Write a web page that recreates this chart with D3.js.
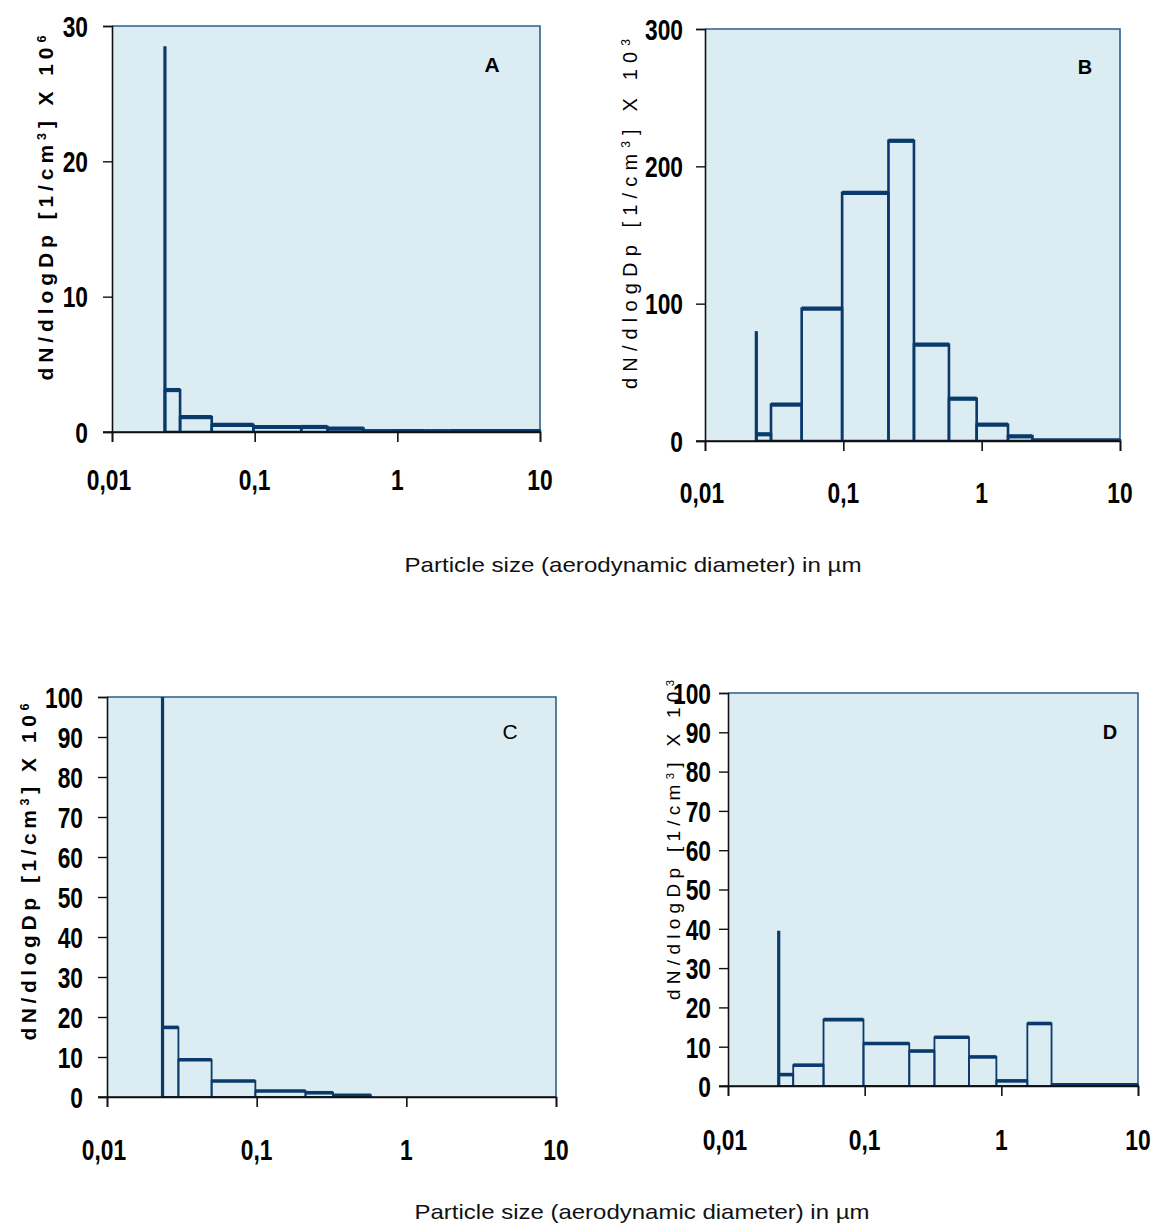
<!DOCTYPE html>
<html>
<head>
<meta charset="utf-8">
<script src="https://cdn.jsdelivr.net/npm/d3@7"></script>
<style>
  html, body { margin: 0; padding: 0; background: #ffffff; }
  svg { display: block; }
</style>
</head>
<body>
<svg id="chart" width="1156" height="1224"></svg>
<script>
// Impactor stage boundaries (aerodynamic diameter, µm)
const stageEdges = [0.0235, 0.030, 0.050, 0.098, 0.212, 0.324, 0.58, 0.92, 1.55, 2.33, 10];

// Lowest-stage peak plus one value per stage, dN/dlogDp
const peakA = 28.5;
const valuesA = [3.1, 1.1, 0.52, 0.37, 0.37, 0.25, 0.06, 0.06, 0.06, 0.06];
const peakB = 80;
const valuesB = [4.9, 26.5, 96.4, 180.7, 218.6, 70.2, 30.8, 11.9, 3.4, 0.5];
const peakC = 100;
const valuesC = [17.4, 9.3, 4.0, 1.5, 1.06, 0.45, 0, 0, 0, 0];
const peakD = 39.5;
const valuesD = [2.9, 5.3, 16.9, 10.8, 8.9, 12.4, 7.4, 1.3, 15.9, 0.3];

// Axis ticks and labels
const xTicks = [0.01, 0.1, 1, 10];
const xTickLabels = ["0,01", "0,1", "1", "10"];
const yTicksA = [0, 10, 20, 30];
const yTicksB = [0, 100, 200, 300];
const yTicksC = [0, 10, 20, 30, 40, 50, 60, 70, 80, 90, 100];
const yTicksD = [0, 10, 20, 30, 40, 50, 60, 70, 80, 90, 100];

const panelLetters = ["A", "B", "C", "D"];
const xTitle = "Particle size (aerodynamic diameter) in µm";

const NAVY = "#0a3a6c";
const PLOT_BG = "#dbecf2";
const BORDER = "#2e5e90";
const TEXT_FONT = "'Liberation Sans', Arial, sans-serif";
const TICK_SIZE = 30;
const TICK_SQUEEZE = 0.76;   // condensed look for the tick numerals

const svg = d3.select("#chart");

const panels = [
  { letter: panelLetters[0], peak: peakA, values: valuesA, yTicks: yTicksA, yMax: 30,
    x0: 112, x1: 540, y0: 26, y1: 432, side: 2.6, top: 4.2,
    labelX: 492, labelY: 72, labelWeight: "bold", labelSize: 21,
    yTitle: { x: 46, cy: 208, len: 345, bold: true, exp: "6", size: 21 },
    yLabelGap: 24, xLabelY: 490 },
  { letter: panelLetters[1], peak: peakB, values: valuesB, yTicks: yTicksB, yMax: 300,
    x0: 705, x1: 1120, y0: 29, y1: 441, side: 2.6, top: 4.2,
    labelX: 1085, labelY: 74, labelWeight: "bold", labelSize: 20,
    yTitle: { x: 630, cy: 214, len: 350, bold: false, exp: "3", size: 20 },
    yLabelGap: 22, xLabelY: 503 },
  { letter: panelLetters[2], peak: peakC, values: valuesC, yTicks: yTicksC, yMax: 100,
    x0: 107, x1: 556, y0: 697, y1: 1097, side: 1.8, top: 3.6,
    labelX: 510, labelY: 739, labelWeight: "normal", labelSize: 21,
    yTitle: { x: 29, cy: 872, len: 337, bold: true, exp: "6", size: 21 },
    yLabelGap: 24, xLabelY: 1160 },
  { letter: panelLetters[3], peak: peakD, values: valuesD, yTicks: yTicksD, yMax: 100,
    x0: 728, x1: 1138, y0: 693, y1: 1086, side: 1.8, top: 3.6,
    labelX: 1110, labelY: 739, labelWeight: "bold", labelSize: 20,
    yTitle: { x: 673, cy: 840, len: 320, bold: false, exp: "3", size: 19 },
    yLabelGap: 17, xLabelY: 1150 }
];

panels.forEach(p => {
  const x = d3.scaleLog().domain([0.01, 10]).range([p.x0, p.x1]);
  const y = d3.scaleLinear().domain([0, p.yMax]).range([p.y1, p.y0]);
  const g = svg.append("g");

  // plot background
  g.append("rect")
    .attr("x", p.x0).attr("y", p.y0)
    .attr("width", p.x1 - p.x0).attr("height", p.y1 - p.y0)
    .attr("fill", PLOT_BG);

  // top and right frame
  g.append("path")
    .attr("d", `M${p.x0},${p.y0}H${p.x1}V${p.y1}`)
    .attr("fill", "none").attr("stroke", BORDER).attr("stroke-width", 1.6);

  const bins = p.values.map((v, i) => ({ lo: stageEdges[i], hi: stageEdges[i + 1], v }));

  const clip = "clip-" + p.letter;
  svg.append("clipPath").attr("id", clip).append("rect")
    .attr("x", p.x0 - 3).attr("y", p.y0).attr("width", p.x1 - p.x0 + 6).attr("height", p.y1 - p.y0);
  const bars = g.append("g").attr("clip-path", `url(#${clip})`);

  // stage outlines
  bars.selectAll("rect.bin").data(bins.filter(d => d.v > 0)).join("rect")
    .attr("class", "bin")
    .attr("x", d => x(d.lo)).attr("y", d => y(d.v))
    .attr("width", d => x(d.hi) - x(d.lo))
    .attr("height", d => y(0) - y(d.v))
    .attr("fill", "none").attr("stroke", NAVY).attr("stroke-width", p.side);

  // stage tops drawn heavier
  bars.selectAll("line.top").data(bins.filter(d => d.v > 0)).join("line")
    .attr("class", "top")
    .attr("x1", d => x(d.lo)).attr("x2", d => x(d.hi))
    .attr("y1", d => y(d.v)).attr("y2", d => y(d.v))
    .attr("stroke", NAVY).attr("stroke-width", p.top);

  // lowest-stage peak
  bars.append("line")
    .attr("x1", x(stageEdges[0])).attr("x2", x(stageEdges[0]))
    .attr("y1", y(0)).attr("y2", y(p.peak))
    .attr("stroke", NAVY).attr("stroke-width", 3.2);

  // y axis
  const yAxis = d3.axisLeft(y).tickValues(p.yTicks).tickSize(9).tickFormat("");
  const ya = g.append("g").attr("transform", `translate(${p.x0},0)`).call(yAxis);
  ya.select(".domain").attr("stroke", "#111").attr("stroke-width", 1.6);
  ya.selectAll(".tick line").attr("stroke", "#111").attr("stroke-width", 1.4);

  // x axis
  const xAxis = d3.axisBottom(x).tickValues(xTicks).tickSize(10).tickFormat("");
  const xa = g.append("g").attr("transform", `translate(0,${p.y1})`).call(xAxis);
  xa.select(".domain").attr("stroke", "#111").attr("stroke-width", 1.6);
  xa.selectAll(".tick line").attr("stroke", "#111").attr("stroke-width", 1.6);
  // axis line continues through the y tick at zero
  g.append("line").attr("x1", p.x0 - 9).attr("x2", p.x1)
    .attr("y1", p.y1).attr("y2", p.y1).attr("stroke", "#111").attr("stroke-width", 1.6);

  // y tick labels (condensed bold numerals)
  g.selectAll("text.ytl").data(p.yTicks).join("text")
    .attr("class", "ytl")
    .attr("transform", d => `translate(${p.x0 - p.yLabelGap},${y(d)}) scale(${TICK_SQUEEZE},1)`)
    .attr("dy", "0.36em")
    .attr("text-anchor", "end")
    .attr("font-family", TEXT_FONT).attr("font-weight", "bold").attr("font-size", TICK_SIZE)
    .attr("fill", "#000")
    .text(d => d);

  // x tick labels
  g.selectAll("text.xtl").data(xTicks).join("text")
    .attr("class", "xtl")
    .attr("transform", (d, i) => `translate(${x(d) - (i === 0 ? 3 : 0)},${p.xLabelY}) scale(${TICK_SQUEEZE},1)`)
    .attr("text-anchor", "middle")
    .attr("font-family", TEXT_FONT).attr("font-weight", "bold").attr("font-size", TICK_SIZE)
    .attr("fill", "#000")
    .text((d, i) => xTickLabels[i]);

  // panel letter
  g.append("text")
    .attr("x", p.labelX).attr("y", p.labelY)
    .attr("text-anchor", "middle")
    .attr("font-family", TEXT_FONT).attr("font-weight", p.labelWeight).attr("font-size", p.labelSize)
    .attr("fill", "#000")
    .text(p.letter);

  // y axis title
  const t = p.yTitle;
  const title = g.append("text")
    .attr("transform", `translate(${t.x},${t.cy}) rotate(-90)`)
    .attr("text-anchor", "middle")
    .attr("dy", "0.35em")
    .attr("font-family", TEXT_FONT).attr("font-weight", t.bold ? "bold" : "normal")
    .attr("font-size", t.size).attr("fill", "#000")
    .attr("textLength", t.len).attr("lengthAdjust", "spacing");
  title.append("tspan").text("dN/dlogDp [1/cm");
  title.append("tspan").attr("baseline-shift", "super").attr("font-size", t.size * 0.6).text("3");
  title.append("tspan").text("] X 10");
  title.append("tspan").attr("baseline-shift", "super").attr("font-size", t.size * 0.6).text(t.exp);
});

// shared x titles
[{ cx: 633, y: 572, len: 457 }, { cx: 642, y: 1219, len: 455 }].forEach(d => {
  svg.append("text")
    .attr("x", d.cx).attr("y", d.y)
    .attr("text-anchor", "middle")
    .attr("font-family", TEXT_FONT).attr("font-size", 21)
    .attr("fill", "#111")
    .attr("textLength", d.len).attr("lengthAdjust", "spacingAndGlyphs")
    .text(xTitle);
});
</script>
</body>
</html>
